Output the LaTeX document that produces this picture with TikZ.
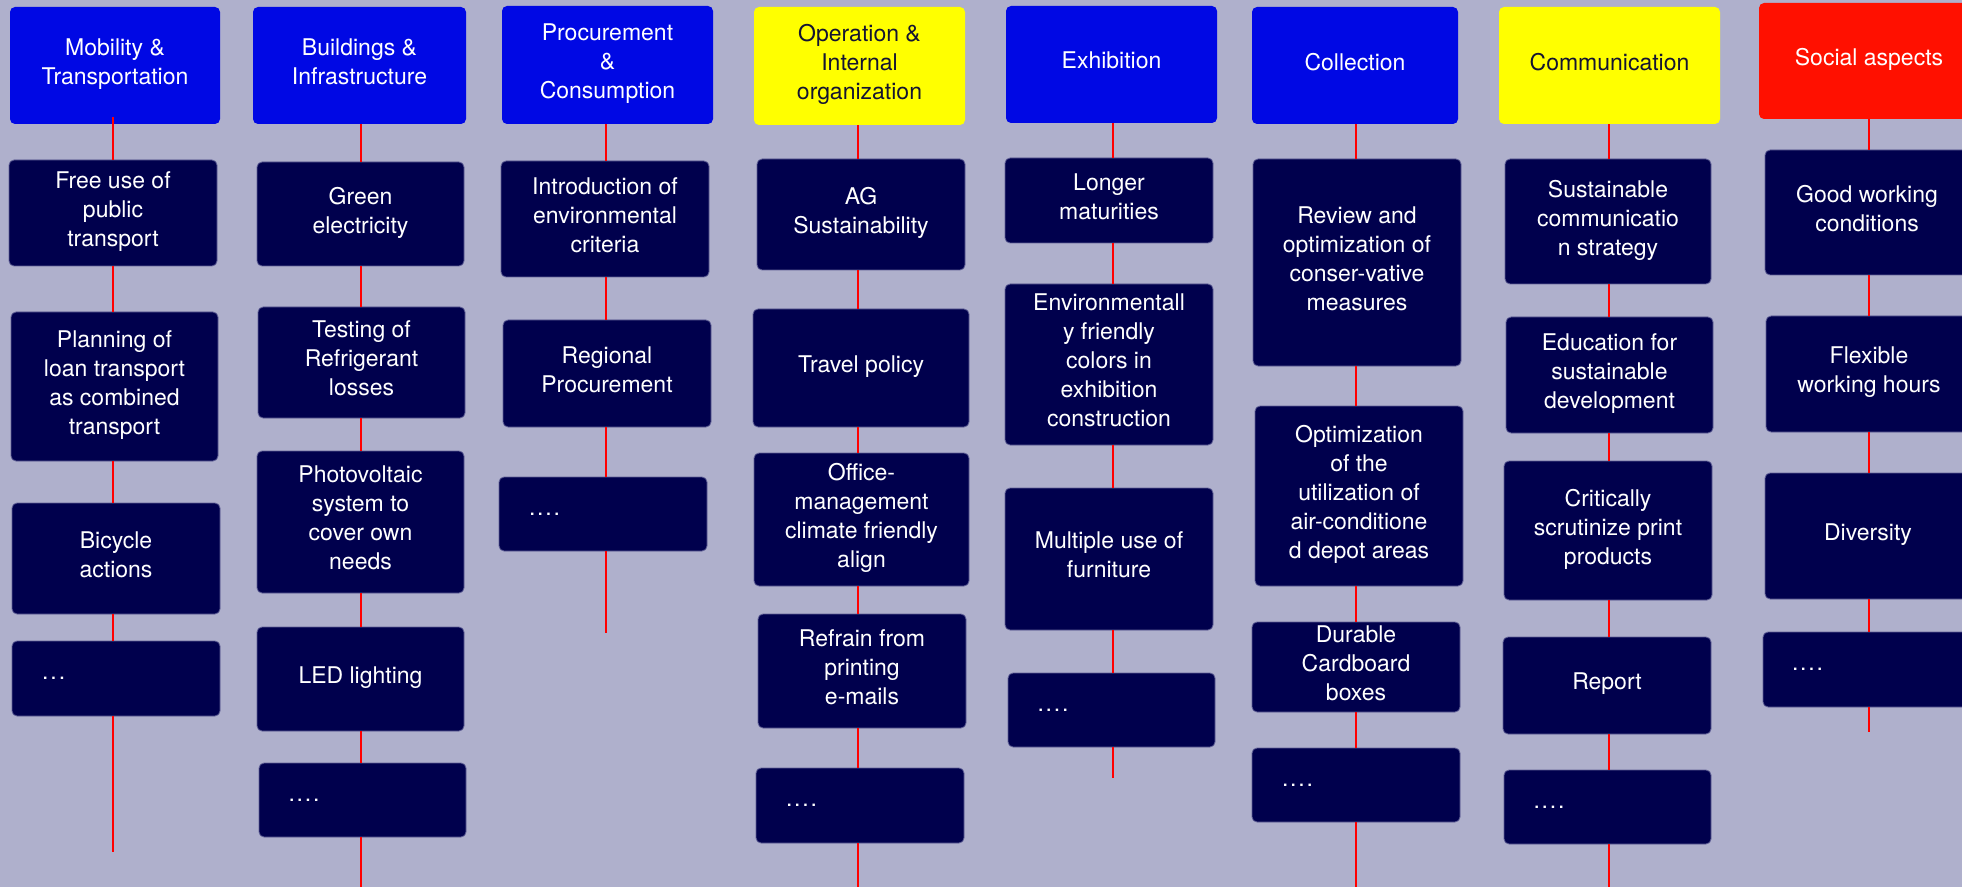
\documentclass[tikz,border=0pt]{standalone}
\usepackage{fontspec}
\setmainfont{TeX Gyre Heros}
\definecolor{bg}{RGB}{175,176,204}
\definecolor{hblue}{RGB}{0,8,228}
\definecolor{navy}{RGB}{0,0,77}
\definecolor{yel}{RGB}{255,255,0}
\definecolor{hred}{RGB}{255,16,0}
\definecolor{edge}{RGB}{96,96,150}
\definecolor{dark}{RGB}{20,20,50}
\definecolor{lred}{RGB}{255,0,0}
\tikzset{
 base/.style={rounded corners=2.5pt, inner sep=0pt, align=center, font=\fontsize{11.5}{14.5}\selectfont, text depth=4pt},
 box/.style={base, fill=navy, draw=edge, line width=0.4pt, text=white},
 dotbox/.style={box, text depth=0pt, align=left, text width=74pt, inner xsep=14.5pt},
 hb/.style={base, fill=hblue, text=white},
 hy/.style={base, fill=yel, text=dark},
 hr/.style={base, fill=hred, text=white},
 link/.style={draw=lred, line width=1.1pt},
}
\newcommand\bx[7]{\node[#1, minimum width={(#5-#3)*0.5pt}, minimum height={(#6-#4)*0.5pt}] (#2) at ({(#3+#5)/2},{(#4+#6)/2}) {#7};}
\newcommand\dthree{.\kern1pt.\kern1pt.}
\newcommand\dfour{.\kern0.9pt.\kern0.9pt.\kern0.9pt.}
\begin{document}
\begin{tikzpicture}[x=0.5pt,y=-0.5pt]
\useasboundingbox (0,0) rectangle (1962,887);
\clip (0,0) rectangle (1962,887);
\fill[bg] (0,0) rectangle (1962,887);
% column x coordinates
\coordinate (X1) at (113,0);
\coordinate (X2) at (361,0);
\coordinate (X3) at (606,0);
\coordinate (X4) at (858,0);
\coordinate (X5) at (1113,0);
\coordinate (X6) at (1356,0);
\coordinate (X7) at (1609,0);
\coordinate (X8) at (1869,0);
% tails
\coordinate (t1) at (113,852);
\coordinate (t2) at (361,890);
\coordinate (t3) at (606,633);
\coordinate (t4) at (858,890);
\coordinate (t5) at (1113,778);
\coordinate (t6) at (1356,890);
\coordinate (t7) at (1609,890);
\coordinate (t8) at (1869,732);
% column 1
\bx{hb}{h1}{10}{7}{220}{124}{Mobility \&\\Transportation}
\bx{box}{a1}{9}{160}{217}{266}{Free use of\\public\\transport}
\bx{box}{a2}{11}{312}{218}{461}{Planning of\\loan transport\\as combined\\transport}
\bx{box}{a3}{12}{503}{220}{614}{Bicycle\\actions}
\bx{dotbox}{a4}{12}{641}{220}{716}{\dthree}
% column 2
\bx{hb}{h2}{253}{7}{466}{124}{Buildings \&\\Infrastructure}
\bx{box}{b1}{257}{162}{464}{266}{Green\\electricity}
\bx{box}{b2}{258}{307}{465}{418}{Testing of\\Refrigerant\\losses}
\bx{box}{b3}{257}{451}{464}{593}{Photovoltaic\\system to\\cover own\\needs}
\bx{box}{b4}{257}{627}{464}{731}{LED lighting}
\bx{dotbox}{b5}{259}{763}{466}{837}{\dfour}
% column 3
\bx{hb}{h3}{502}{6}{713}{124}{Procurement\\\&\\Consumption}
\bx{box}{c1}{501}{161}{709}{277}{Introduction of\\environmental\\criteria}
\bx{box}{c2}{503}{320}{711}{427}{Regional\\Procurement}
\bx{dotbox}{c3}{499}{477}{707}{551}{\dfour}
% column 4
\bx{hy}{h4}{754}{7}{965}{125}{Operation \&\\Internal\\organization}
\bx{box}{d1}{757}{159}{965}{270}{AG\\Sustainability}
\bx{box}{d2}{753}{309}{969}{427}{Travel policy}
\bx{box}{d3}{754}{453}{969}{586}{Office-\\management\\climate friendly\\align}
\bx{box}{d4}{758}{614}{966}{728}{Refrain from\\printing\\e-mails}
\bx{dotbox}{d5}{756}{768}{964}{843}{\dfour}
% column 5
\bx{hb}{h5}{1006}{6}{1217}{123}{Exhibition}
\bx{box}{e1}{1005}{158}{1213}{243}{Longer\\maturities}
\bx{box}{e2}{1005}{284}{1213}{445}{Environmentall\\y friendly\\colors in\\exhibition\\construction}
\bx{box}{e3}{1005}{488}{1213}{630}{Multiple use of\\furniture}
\bx{dotbox}{e4}{1008}{673}{1215}{747}{\dfour}
% column 6
\bx{hb}{h6}{1252}{7}{1458}{124}{Collection}
\bx{box}{f1}{1253}{159}{1461}{366}{Review and\\optimization of\\conser-vative\\measures}
\bx{box}{f2}{1255}{406}{1463}{586}{Optimization\\of the\\utilization of\\air-conditione\\d depot areas}
\bx{box}{f3}{1252}{622}{1460}{712}{Durable\\Cardboard\\boxes}
\bx{dotbox}{f4}{1252}{748}{1460}{822}{\dfour}
% column 7
\bx{hy}{h7}{1499}{7}{1720}{124}{Communication}
\bx{box}{g1}{1505}{159}{1711}{284}{Sustainable\\communicatio\\n strategy}
\bx{box}{g2}{1506}{317}{1713}{433}{Education for\\sustainable\\development}
\bx{box}{g3}{1504}{461}{1712}{600}{Critically\\scrutinize print\\products}
\bx{box}{g4}{1503}{637}{1711}{734}{Report}
\bx{dotbox}{g5}{1504}{770}{1711}{844}{\dfour}
% column 8
\bx{hr}{h8}{1759}{3}{1979}{119}{Social aspects}
\bx{box}{k1}{1765}{150}{1969}{275}{Good working\\conditions}
\bx{box}{k2}{1766}{316}{1972}{432}{Flexible\\working hours}
\bx{box}{k3}{1765}{473}{1971}{599}{Diversity}
\bx{dotbox}{k4}{1763}{632}{1969}{707}{\dfour}
% connectors
\draw[link] ([yshift=3.5pt]h1.south -| X1) -- (a1.north -| X1);
\draw[link] (a1.south -| X1) -- (a2.north -| X1);
\draw[link] (a2.south -| X1) -- (a3.north -| X1);
\draw[link] (a3.south -| X1) -- (a4.north -| X1);
\draw[link] (a4.south -| X1) -- (t1);
\draw[link] (h2.south -| X2) -- (b1.north -| X2);
\draw[link] (b1.south -| X2) -- (b2.north -| X2);
\draw[link] (b2.south -| X2) -- (b3.north -| X2);
\draw[link] (b3.south -| X2) -- (b4.north -| X2);
\draw[link] (b4.south -| X2) -- (b5.north -| X2);
\draw[link] (b5.south -| X2) -- (t2);
\draw[link] (h3.south -| X3) -- (c1.north -| X3);
\draw[link] (c1.south -| X3) -- (c2.north -| X3);
\draw[link] (c2.south -| X3) -- (c3.north -| X3);
\draw[link] (c3.south -| X3) -- (t3);
\draw[link] (h4.south -| X4) -- (d1.north -| X4);
\draw[link] (d1.south -| X4) -- (d2.north -| X4);
\draw[link] (d2.south -| X4) -- (d3.north -| X4);
\draw[link] (d3.south -| X4) -- (d4.north -| X4);
\draw[link] (d4.south -| X4) -- (d5.north -| X4);
\draw[link] (d5.south -| X4) -- (t4);
\draw[link] (h5.south -| X5) -- (e1.north -| X5);
\draw[link] (e1.south -| X5) -- (e2.north -| X5);
\draw[link] (e2.south -| X5) -- (e3.north -| X5);
\draw[link] (e3.south -| X5) -- (e4.north -| X5);
\draw[link] (e4.south -| X5) -- (t5);
\draw[link] (h6.south -| X6) -- (f1.north -| X6);
\draw[link] (f1.south -| X6) -- (f2.north -| X6);
\draw[link] (f2.south -| X6) -- (f3.north -| X6);
\draw[link] (f3.south -| X6) -- (f4.north -| X6);
\draw[link] (f4.south -| X6) -- (t6);
\draw[link] (h7.south -| X7) -- (g1.north -| X7);
\draw[link] (g1.south -| X7) -- (g2.north -| X7);
\draw[link] (g2.south -| X7) -- (g3.north -| X7);
\draw[link] (g3.south -| X7) -- (g4.north -| X7);
\draw[link] (g4.south -| X7) -- (g5.north -| X7);
\draw[link] (g5.south -| X7) -- (t7);
\draw[link] (h8.south -| X8) -- (k1.north -| X8);
\draw[link] (k1.south -| X8) -- (k2.north -| X8);
\draw[link] (k2.south -| X8) -- (k3.north -| X8);
\draw[link] (k3.south -| X8) -- (k4.north -| X8);
\draw[link] (k4.south -| X8) -- (t8);
\end{tikzpicture}
\end{document}
